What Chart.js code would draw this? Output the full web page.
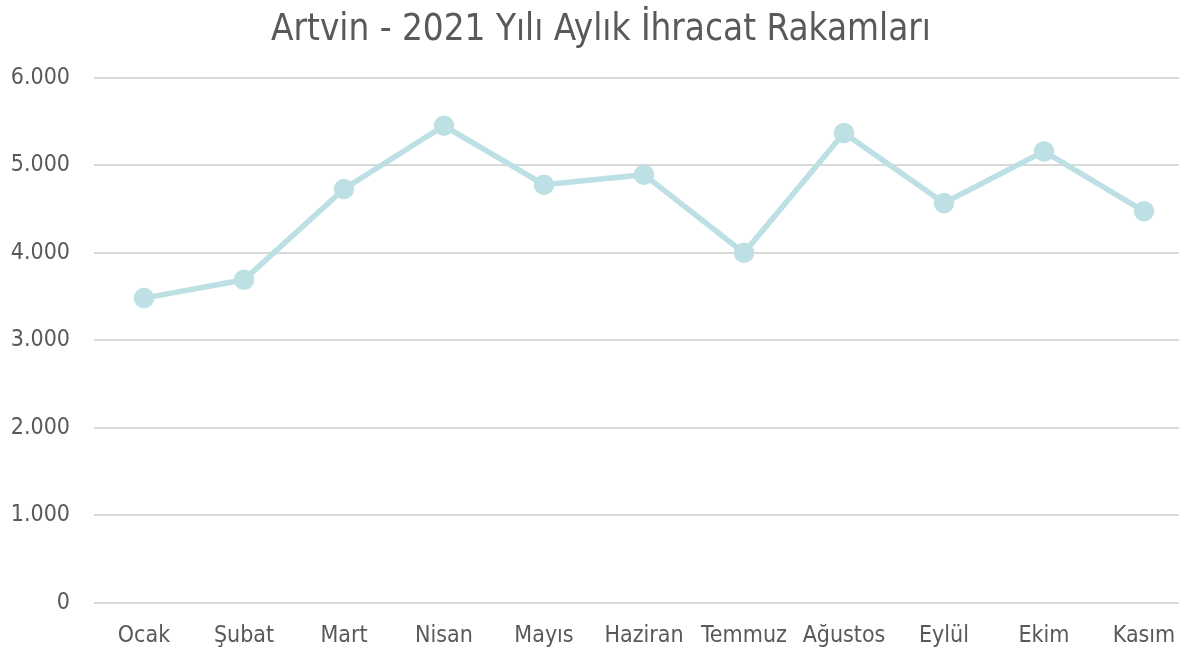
<!DOCTYPE html>
<html>
<head>
<meta charset="utf-8">
<script src="https://cdn.jsdelivr.net/npm/chart.js@4"></script>
<style>
  html, body { margin: 0; padding: 0; background: #fff; overflow: hidden; }
  #wrap { width: 1207px; height: 650px; }
</style>
</head>
<body>
<div id="wrap"><canvas id="exportChart"></canvas></div>
<script>
const months = ['Ocak', 'Şubat', 'Mart', 'Nisan', 'Mayıs', 'Haziran', 'Temmuz', 'Ağustos', 'Eylül', 'Ekim', 'Kasım'];
const exports2021 = [3483, 3692, 4730, 5452, 4779, 4893, 4000, 5369, 4570, 5159, 4475];
const yTicks = [0, 1000, 2000, 3000, 4000, 5000, 6000];

const FONT = "'DejaVu Sans Condensed', 'DejaVu Sans', sans-serif";
const textColor = '#595959';
const lineColor = '#bce0e3';

// 6000 -> "6.000"
const fmt = v => String(v).replace(/\B(?=(\d{3})+(?!\d))/g, '.');

new Chart(document.getElementById('exportChart'), {
  type: 'line',
  data: {
    labels: months,
    datasets: [{
      data: exports2021,
      borderColor: lineColor,
      backgroundColor: lineColor,
      borderWidth: 5.5,
      pointRadius: 7.5,
      pointHoverRadius: 7.5,
      tension: 0
    }]
  },
  options: {
    responsive: true,
    maintainAspectRatio: false,
    animation: false,
    layout: { padding: { left: 0, right: 5, top: 0, bottom: 0 } },
    plugins: {
      legend: { display: false },
      tooltip: { enabled: false },
      title: {
        display: true,
        text: 'Artvin - 2021 Yılı Aylık İhracat Rakamları',
        color: textColor,
        font: { family: FONT, size: 36.5, weight: 'normal' },
        padding: { top: 9, bottom: 25 }
      }
    },
    scales: {
      x: {
        offset: true,
        grid: { display: false, drawTicks: false },
        border: { display: false },
        ticks: {
          color: textColor,
          font: { family: FONT, size: 23 },
          padding: 19,
          maxRotation: 0,
          autoSkip: false
        },
        afterFit: s => { s.height = 47; }
      },
      y: {
        min: 0,
        max: 6000,
        afterBuildTicks: s => { s.ticks = yTicks.map(v => ({ value: v })); },
        grid: { color: '#d9d9d9', lineWidth: 2, drawTicks: false },
        border: { display: false },
        ticks: {
          color: textColor,
          font: { family: FONT, size: 23 },
          padding: 24,
          callback: v => fmt(v)
        },
        afterFit: s => { s.width = 94; }
      }
    }
  }
});
</script>
</body>
</html>
